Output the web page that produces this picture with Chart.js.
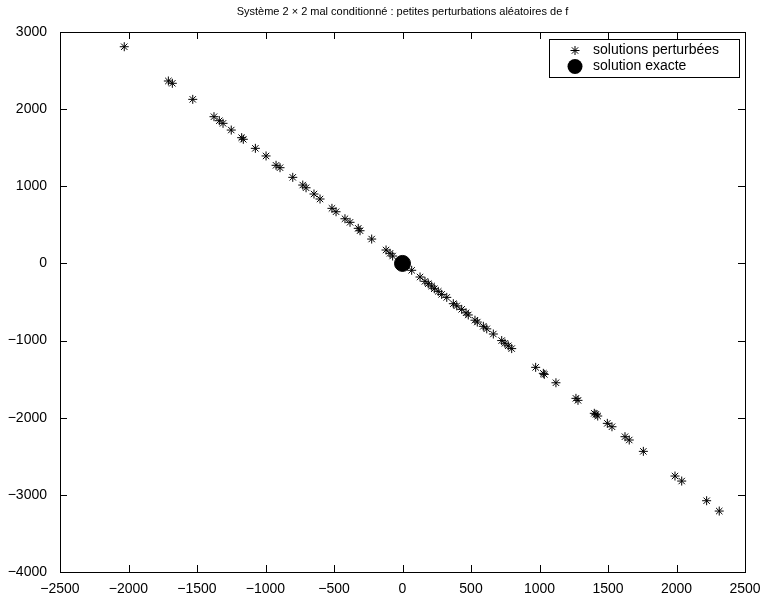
<!DOCTYPE html>
<html>
<head>
<meta charset="utf-8">
<script src="https://cdn.jsdelivr.net/npm/chart.js@4"></script>
<style>
  html, body { margin: 0; padding: 0; background: #fff; }
  #wrap { width: 762px; height: 597px; }
</style>
</head>
<body>
<div id="wrap"><canvas id="chart"></canvas></div>
<script>
// perturbed solutions (x1, x2)
const pertX = [-2031, -1709, -1680, -1531, -1376, -1337, -1310, -1250, -1174, -1162,
  -1074, -996, -923, -894, -801, -728, -704, -646, -602, -515,
  -485, -420, -383, -323, -310, -225, -120, -91, -72,
  67, 128, 164, 188, 213, 232, 261, 286, 323, 371,
  396, 432, 464, 480, 529, 546, 590, 615, 663, 724,
  748, 772, 797,
  972, 1028, 1035, 1120, 1266, 1281, 1400, 1412, 1425, 1495,
  1529, 1624, 1655, 1758, 1989, 2038, 2220, 2312];
const pertY = [2809, 2365, 2335, 2127, 1902, 1850, 1816, 1729, 1630, 1609,
  1492, 1393, 1272, 1241, 1116, 1016, 981, 900, 835, 714,
  670, 579, 533, 455, 424, 316, 174, 131, 96,
  -89, -176, -232, -263, -293, -328, -362, -401, -440, -522,
  -550, -595, -640, -668, -736, -760, -815, -848, -915, -1000,
  -1035, -1068, -1104,
  -1347, -1425, -1438, -1547, -1749, -1775, -1943, -1956, -1978, -2073,
  -2117, -2246, -2289, -2436, -2756, -2821, -3076, -3210];

// exact solution
const exactX = [0];
const exactY = [0];

const xTickValues = [-2500, -2000, -1500, -1000, -500, 0, 500, 1000, 1500, 2000, 2500];
const yTickValues = [-4000, -3000, -2000, -1000, 0, 1000, 2000, 3000];

const titleText = 'Système 2 × 2 mal conditionné : petites perturbations aléatoires de f';
const legendLabels = ['solutions perturbées', 'solution exacte'];

const FONT = "'Liberation Sans', Arial, Helvetica, sans-serif";
const fmt = v => String(v).replace('-', '\u2212');

// title over the axes, box around them, inward ticks on all four sides, legend box
const framePlugin = {
  id: 'frame',
  afterDatasetsDraw(chart) {
    const { ctx, chartArea: a, scales: { x, y } } = chart;
    const tl = 7;
    ctx.save();
    ctx.fillStyle = '#000';
    ctx.font = '11px ' + FONT;
    ctx.textAlign = 'center';
    ctx.textBaseline = 'middle';
    ctx.fillText(titleText, (a.left + a.right) / 2, 12);

    ctx.strokeStyle = '#000';
    ctx.lineWidth = 1;
    ctx.strokeRect(a.left + 0.5, a.top + 0.5, a.right - a.left, a.bottom - a.top);
    ctx.beginPath();
    x.ticks.forEach(t => {
      const px = Math.round(x.getPixelForValue(t.value)) + 0.5;
      ctx.moveTo(px, a.bottom); ctx.lineTo(px, a.bottom - tl);
      ctx.moveTo(px, a.top); ctx.lineTo(px, a.top + tl);
    });
    y.ticks.forEach(t => {
      const py = Math.round(y.getPixelForValue(t.value)) + 0.5;
      ctx.moveTo(a.left, py); ctx.lineTo(a.left + tl, py);
      ctx.moveTo(a.right, py); ctx.lineTo(a.right - tl, py);
    });
    ctx.stroke();

    // legend
    const lx = 549.5, ly = 39.5, lw = 190, lh = 38;
    ctx.fillStyle = '#fff';
    ctx.fillRect(lx, ly, lw, lh);
    ctx.strokeRect(lx, ly, lw, lh);
    const mx = 575;
    const rows = [ly + 11, ly + 27];
    // asterisk
    const r = 4.5, d = r * Math.SQRT1_2;
    ctx.beginPath();
    ctx.moveTo(mx - r, rows[0]); ctx.lineTo(mx + r, rows[0]);
    ctx.moveTo(mx, rows[0] - r); ctx.lineTo(mx, rows[0] + r);
    ctx.moveTo(mx - d, rows[0] - d); ctx.lineTo(mx + d, rows[0] + d);
    ctx.moveTo(mx - d, rows[0] + d); ctx.lineTo(mx + d, rows[0] - d);
    ctx.stroke();
    // filled circle
    ctx.fillStyle = '#000';
    ctx.beginPath();
    ctx.arc(mx, rows[1], 7.5, 0, Math.PI * 2);
    ctx.fill();
    ctx.font = '14px ' + FONT;
    ctx.textAlign = 'left';
    legendLabels.forEach((s, i) => ctx.fillText(s, 593, rows[i]));
    ctx.restore();
  }
};

new Chart(document.getElementById('chart'), {
  type: 'scatter',
  data: {
    datasets: [{
      label: legendLabels[1],
      data: exactX.map((v, i) => ({ x: v, y: exactY[i] })),
      pointStyle: 'circle',
      pointRadius: 8,
      backgroundColor: '#000',
      borderColor: '#000',
      order: 0
    }, {
      label: legendLabels[0],
      data: pertX.map((v, i) => ({ x: v, y: pertY[i] })),
      pointStyle: 'star',
      pointRadius: 4.5,
      borderWidth: 1,
      borderColor: '#000',
      backgroundColor: '#000',
      order: 1
    }]
  },
  options: {
    responsive: true,
    maintainAspectRatio: false,
    animation: false,
    layout: { padding: { left: 0, right: 17, top: 32, bottom: 0 } },
    plugins: {
      legend: { display: false },
      tooltip: { enabled: false },
      title: { display: false }
    },
    scales: {
      x: {
        type: 'linear',
        min: -2500,
        max: 2500,
        afterBuildTicks: s => { s.ticks = xTickValues.map(v => ({ value: v })); },
        afterFit: s => { s.height = 25; },
        grid: { display: false },
        border: { display: false },
        ticks: {
          color: '#000',
          padding: 1,
          maxRotation: 0,
          autoSkip: false,
          font: { family: FONT, size: 14 },
          callback: v => fmt(v)
        }
      },
      y: {
        type: 'linear',
        min: -4000,
        max: 3000,
        afterBuildTicks: s => { s.ticks = yTickValues.map(v => ({ value: v })); },
        afterFit: s => { s.width = 60; },
        grid: { display: false },
        border: { display: false },
        ticks: {
          color: '#000',
          padding: 5,
          autoSkip: false,
          font: { family: FONT, size: 14 },
          callback: v => fmt(v)
        }
      }
    }
  },
  plugins: [framePlugin]
});
</script>
</body>
</html>
